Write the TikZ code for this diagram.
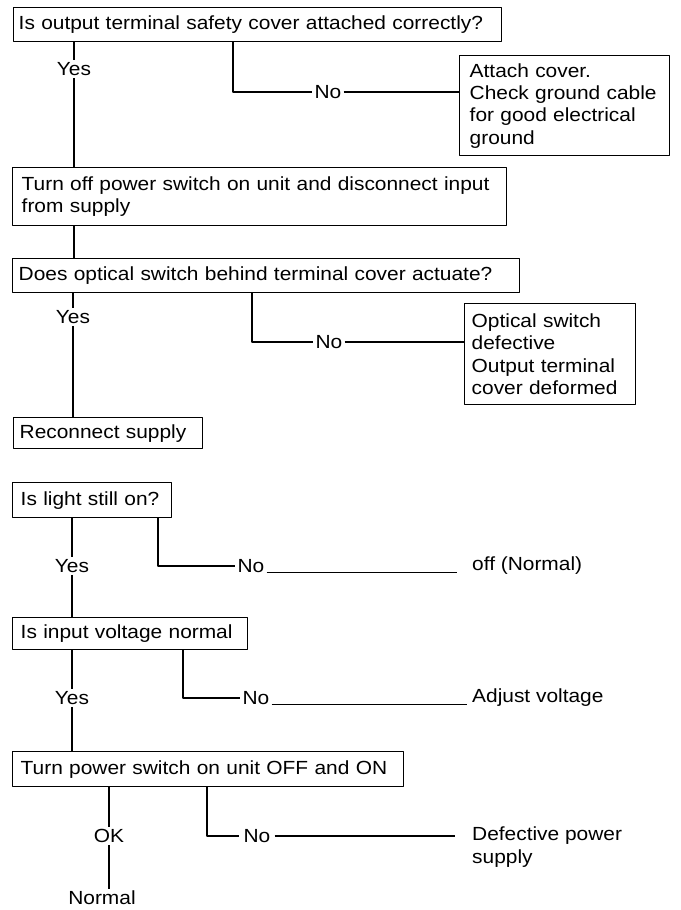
\documentclass[tikz,border=0pt]{standalone}
\usepackage{fontspec}
\setmainfont{Liberation Sans}[FakeStretch=1.1]
\usepackage{tikz}
\usetikzlibrary{positioning}

\newcommand\fs{\fontsize{19}{22.3}\selectfont}

\begin{document}
\begin{tikzpicture}[x=1pt, y=-1pt, line join=round,
	box/.style={draw, line width=1.4pt, anchor=north west, align=left,
		inner ysep=0pt, font=\fs},
	lbl/.style={inner sep=2pt, font=\fs},
	wire/.style={line width=1.8pt}]
	
	\useasboundingbox (0,0) rectangle (680,910);
	
	% --- cover check ---
	\node[box, inner xsep=5pt, text width=478pt, minimum height=34pt] (cover) at (13,7)
	{Is output terminal safety cover attached correctly?};
	\node[box, inner xsep=10pt, text width=190pt, minimum height=100pt] (attach) at (459,55)
	{Attach cover.\\Check ground cable\\for good electrical\\ground};
	\node[lbl] (yes1) at (74,69) {Yes};
	\node[lbl] (no1) at (328,92) {No};
	\coordinate (b1) at (233,0);
	\draw[wire] (cover.south -| yes1) -- (yes1.north);
	\draw[wire] (cover.south -| b1) |- (no1.west);
	\draw[wire] (no1.east) -- (no1.east -| attach.west);
	
	% --- disconnect ---
	\node[box, inner xsep=9pt, text width=476pt, minimum height=58pt] (discon) at (12,167)
	{Turn off power switch on unit and disconnect input\\from supply};
	\draw[wire] (yes1.south) -- (yes1.south |- discon.north);
	
	% --- optical switch ---
	\node[box, inner xsep=6pt, text width=495pt, minimum height=34pt] (optic) at (12,258)
	{Does optical switch behind terminal cover actuate?};
	\draw[wire] (discon.south -| yes1) -- (optic.north -| yes1);
	\node[box, inner xsep=7pt, text width=157pt, minimum height=101pt] (defect) at (464,303)
	{Optical switch\\defective\\Output terminal\\cover deformed};
	\node[lbl] (yes2) at (73,317) {Yes};
	\node[lbl] (no2) at (329,342) {No};
	\coordinate (b2) at (252,0);
	\draw[wire] (optic.south -| yes2) -- (yes2.north);
	\draw[wire] (optic.south -| b2) |- (no2.west);
	\draw[wire] (no2.east) -- (no2.east -| defect.west);
	
	% --- reconnect ---
	\node[box, inner xsep=6pt, text width=177pt, minimum height=31pt] (recon) at (13,417)
	{Reconnect supply};
	\draw[wire] (yes2.south) -- (yes2.south |- recon.north);
	
	% --- light still on ---
	\node[box, inner xsep=8pt, text width=143pt, minimum height=35pt] (light) at (12,482)
	{Is light still on?};
	\node[lbl] (yes3) at (72,566) {Yes};
	\node[lbl] (no3) at (251,566) {No};
	\node[lbl, anchor=west, inner sep=0pt] (off) at (472,566) {off (Normal)};
	\coordinate (b3) at (158,0);
	\draw[wire] (light.south -| yes3) -- (yes3.north);
	\draw[wire] (light.south -| b3) |- (no3.west);
	\draw[wire, shorten >=15pt] (no3.base east) -- (no3.base east -| off.west);
	
	% --- input voltage ---
	\node[box, inner xsep=8pt, text width=219pt, minimum height=32pt] (volt) at (12,617)
	{Is input voltage normal};
	\draw[wire] (yes3.south) -- (yes3.south |- volt.north);
	\node[lbl] (yes4) at (72,698) {Yes};
	\node[lbl] (no4) at (256,698) {No};
	\node[lbl, anchor=west, inner sep=0pt] (adjust) at (472,698) {Adjust voltage};
	\coordinate (b4) at (183,0);
	\draw[wire] (volt.south -| yes4) -- (yes4.north);
	\draw[wire] (volt.south -| b4) |- (no4.west);
	\draw[wire, shorten >=5pt] (no4.base east) -- (no4.base east -| adjust.west);
	
	% --- power cycle ---
	\node[box, inner xsep=8pt, text width=375pt, minimum height=35pt] (cycle) at (12,751)
	{Turn power switch on unit OFF and ON};
	\draw[wire] (yes4.south) -- (yes4.south |- cycle.north);
	\node[lbl] (ok) at (109,836) {OK};
	\node[lbl, below=44pt of ok, xshift=-7pt] (normal) {Normal};
	\node[lbl, inner xsep=4pt] (no5) at (257,836) {No};
	\node[lbl, anchor=west, inner sep=0pt, align=left] (psu) at (472,847)
	{Defective power\\supply};
	\coordinate (b5) at (207,0);
	\draw[wire] (cycle.south -| ok) -- (ok.north);
	\draw[wire] (ok.south) -- (ok.south |- normal.north);
	\draw[wire] (cycle.south -| b5) |- (no5.west);
	\draw[wire, shorten >=17pt] (no5.east) -- (no5.east -| psu.west);
	
\end{tikzpicture}
\end{document}
